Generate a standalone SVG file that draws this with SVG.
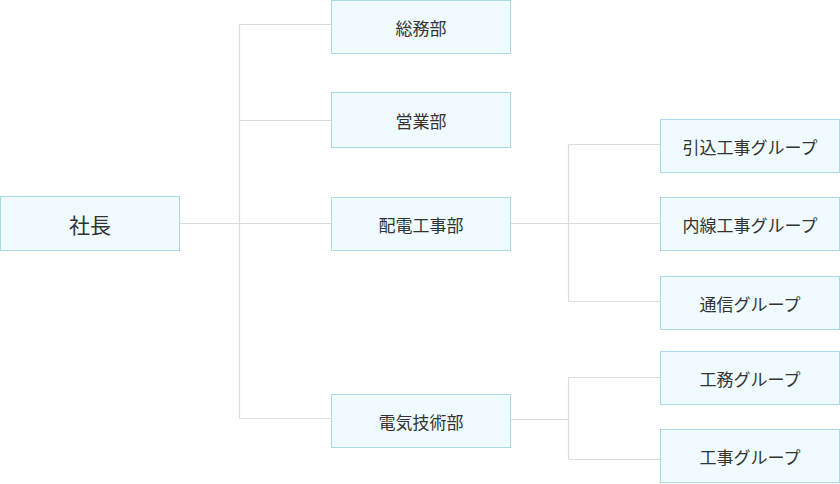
<svg xmlns="http://www.w3.org/2000/svg" width="840" height="484" viewBox="0 0 840 484">
<style>
.box{fill:#effbfe;stroke:#a9dce6;stroke-width:1}
.t{font-family:"Noto Sans CJK JP","Noto Sans",sans-serif;font-size:17px;fill:#333;text-anchor:middle;dominant-baseline:central}
.big{font-size:21px}
.ln{fill:none;stroke:#dcdcdc;stroke-width:1.2}
</style>
<rect width="840" height="484" fill="#fff"/>
<g id="connectors">
<path class="ln" d="M180,223.5H331.5M239.5,24.5V418.5M239.5,24.5H331.5M239.5,120.5H331.5M239.5,418.5H331.5"/>
<path class="ln" d="M510.5,223.5H660.5M568.5,144.5V301.5M568.5,144.5H660.5M568.5,301.5H660.5"/>
<path class="ln" d="M510.5,419.5H568.5M568.5,377.5V459.5M568.5,377.5H660.5M568.5,459.5H660.5"/>
</g>
<g id="shacho"><rect class="box" x="0.5" y="196.5" width="179" height="54"/><text class="t big" x="90" y="223.5">社長</text></g>
<g id="somu"><rect class="box" x="331.5" y="0.5" width="179" height="53"/><text class="t" x="421" y="27">総務部</text></g>
<g id="eigyo"><rect class="box" x="331.5" y="92.5" width="179" height="55"/><text class="t" x="421" y="120">営業部</text></g>
<g id="haiden"><rect class="box" x="331.5" y="197.5" width="179" height="53"/><text class="t" x="421" y="224">配電工事部</text></g>
<g id="denki"><rect class="box" x="331.5" y="394.5" width="179" height="53"/><text class="t" x="421" y="421">電気技術部</text></g>
<g id="hikikomi"><rect class="box" x="660.5" y="119.5" width="179" height="53"/><text class="t" x="750" y="146">引込工事グループ</text></g>
<g id="naisen"><rect class="box" x="660.5" y="197.5" width="179" height="53"/><text class="t" x="750" y="224">内線工事グループ</text></g>
<g id="tsushin"><rect class="box" x="660.5" y="276.5" width="179" height="53"/><text class="t" x="750" y="303">通信グループ</text></g>
<g id="komu"><rect class="box" x="660.5" y="351.5" width="179" height="53"/><text class="t" x="750" y="378">工務グループ</text></g>
<g id="koji"><rect class="box" x="660.5" y="429.5" width="179" height="53"/><text class="t" x="750" y="456">工事グループ</text></g>
</svg>
